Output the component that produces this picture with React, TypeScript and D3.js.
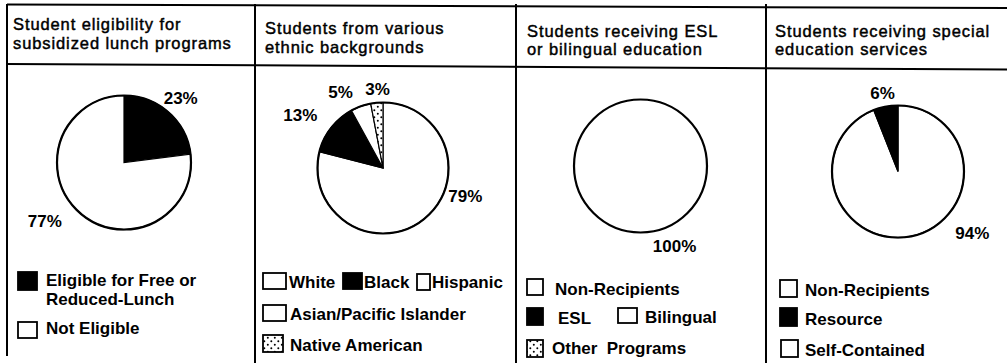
import React from "react";
import * as d3 from "d3";

// ---------- DATA ----------
const titles: string[][] = [
  ["Student eligibility for", "subsidized lunch programs"],
  ["Students from various", "ethnic backgrounds"],
  ["Students receiving ESL", "or bilingual education"],
  ["Students receiving special", "education services"],
];

const lunchCategories = ["Eligible for Free or|Reduced-Lunch", "Not Eligible"];
const lunchValues = [23, 77];

const ethnicCategories = ["White", "Black", "Hispanic", "Asian/Pacific Islander", "Native American"];
const ethnicValues = [79, 13, 0, 5, 3];

const eslCategories = ["Non-Recipients", "ESL", "Bilingual", "Other  Programs"];
const eslValues = [100, 0, 0, 0];

const spedCategories = ["Non-Recipients", "Resource", "Self-Contained"];
const spedValues = [94, 6, 0];

// ---------- STYLE / LAYOUT ----------
const W = 1007;
const H = 363;
const FONT = "'Liberation Sans', Arial, Helvetica, sans-serif";

type Fill = "black" | "white" | "dots";
const panelFills: Fill[][] = [
  ["black", "white"],
  ["white", "black", "white", "white", "dots"],
  ["white", "black", "white", "dots"],
  ["white", "black", "white"],
];

const panelLeft = [7, 255, 516, 766];
const titleBaseline = [30, 34, 36.5, 36.5];
const titleX = [13, 265, 527, 775];
const titleGap = 18.5;
const legendLineGap = 19.5;
const pieCenters = [
  [124, 162.5],
  [383, 168],
  [640.5, 166],
  [898, 171.5],
];
const pieRadius = [67, 65.5, 66.5, 66];

// label placement: angle (deg, clockwise from top; null = slice mid-angle) and radius factor
const labelPlacement: { angle: number | null; k: number }[][] = [
  [{ angle: null, k: 1.28 }, { angle: 233.5, k: 1.47 }],
  [{ angle: 109, k: 1.33 }, { angle: 302.6, k: 1.5 }, { angle: null, k: 1.3 }, { angle: 330.8, k: 1.33 }, { angle: 356, k: 1.21 }],
  [{ angle: 157, k: 1.31 }, { angle: null, k: 1.2 }, { angle: null, k: 1.2 }, { angle: null, k: 1.2 }],
  [{ angle: 129.5, k: 1.46 }, { angle: 348.8, k: 1.21 }, { angle: null, k: 1.2 }],
];

// legend: box [x, y, w, h], text x, text baseline
const legendLayout: { box: number[]; tx: number; ty: number }[][] = [
  [
    { box: [18, 272, 19, 18], tx: 46, ty: 285.5 },
    { box: [18, 322, 19, 16], tx: 46, ty: 334 },
  ],
  [
    { box: [263, 273, 23, 16], tx: 289, ty: 288 },
    { box: [343, 273, 19, 16], tx: 364, ty: 288 },
    { box: [417, 274, 13, 16], tx: 432, ty: 288 },
    { box: [263, 305, 23, 16], tx: 290, ty: 320 },
    { box: [263, 335, 20, 17], tx: 290, ty: 351 },
  ],
  [
    { box: [527, 279, 16, 16], tx: 555, ty: 295 },
    { box: [527, 308, 16, 17], tx: 558, ty: 324 },
    { box: [618, 308, 19, 15], tx: 645, ty: 323 },
    { box: [527, 340, 16, 17], tx: 552, ty: 354 },
  ],
  [
    { box: [780, 280, 17, 17], tx: 805, ty: 296 },
    { box: [780, 308, 17, 18], tx: 805, ty: 325 },
    { box: [781, 340, 17, 17], tx: 805, ty: 356 },
  ],
];

const panelCategories = [lunchCategories, ethnicCategories, eslCategories, spedCategories];
const panelValues = [lunchValues, ethnicValues, eslValues, spedValues];

function fillOf(f: Fill) {
  if (f === "black") return "#000";
  if (f === "dots") return "url(#dots)";
  return "#fff";
}

export default function App() {
  const pie = d3
    .pie<number>()
    .sort(null)
    .value((d) => d);

  return (
    <svg
      width={W}
      height={H}
      style={{ position: "absolute", left: 0, top: 0, background: "#fff" }}
      fontFamily={FONT}
    >
      <defs>
        <pattern id="dots" width="7" height="7" patternUnits="userSpaceOnUse">
          <rect width="7" height="7" fill="#fff" />
          <circle cx="1.8" cy="1.8" r="1" fill="#000" />
          <circle cx="5.3" cy="5.3" r="1" fill="#000" />
        </pattern>
      </defs>
      <rect width={W} height={H} fill="#fff" />

      {/* frame lines */}
      <line x1={panelLeft[0]} y1={4.5} x2={W} y2={8} stroke="#000" strokeWidth={2} />
      <line x1={panelLeft[0]} y1={64} x2={W} y2={69.5} stroke="#000" strokeWidth={2} />
      {panelLeft.map((x, i) => (
        <line key={i} x1={x} y1={4} x2={x} y2={i === 0 ? 356 : H} stroke="#000" strokeWidth={2} />
      ))}

      {panelValues.map((vals, pi) => {
        const [cx, cy] = pieCenters[pi];
        const r = pieRadius[pi];
        const arcs = pie(vals);
        const arc = d3.arc<d3.PieArcDatum<number>>().innerRadius(0).outerRadius(r);
        const total = d3.sum(vals);
        return (
          <g key={pi}>
            {/* title */}
            {titles[pi].map((t, li) => (
              <text
                key={li}
                x={titleX[pi]}
                y={titleBaseline[pi] + li * titleGap}
                fontSize={16.5}
                letterSpacing={0.9}
                fill="#000"
                stroke="#000"
                strokeWidth={0.45}
              >
                {t}
              </text>
            ))}

            {/* pie */}
            <g transform={`translate(${cx},${cy})`}>
              {arcs
                .filter((a) => a.value > 0)
                .map((a, i) => (
                  <path
                    key={i}
                    d={arc(a) || ""}
                    fill={fillOf(panelFills[pi][a.index])}
                    stroke="#000"
                    strokeWidth={total === a.value ? 0 : 1.2}
                  />
                ))}
              <circle r={r} fill="none" stroke="#000" strokeWidth={2.2} />
              {arcs
                .filter((a) => a.value > 0)
                .map((a) => {
                  const pl = labelPlacement[pi][a.index];
                  const ang =
                    pl.angle === null ? (a.startAngle + a.endAngle) / 2 : (pl.angle * Math.PI) / 180;
                  const d = r * pl.k;
                  const x = d * Math.sin(ang);
                  const y = -d * Math.cos(ang);
                  return (
                    <text
                      key={"l" + a.index}
                      x={x}
                      y={y}
                      dy="0.36em"
                      textAnchor="middle"
                      fontSize={17}
                      fontWeight="bold"
                      fill="#000"
                    >
                      {Math.round((a.value / total) * 100)}%
                    </text>
                  );
                })}
            </g>

            {/* legend */}
            {panelCategories[pi].map((c, ci) => {
              const lay = legendLayout[pi][ci];
              const [bx, by, bw, bh] = lay.box;
              const lines = c.split("|");
              return (
                <g key={"g" + ci}>
                  <rect
                    x={bx}
                    y={by}
                    width={bw}
                    height={bh}
                    fill={fillOf(panelFills[pi][ci])}
                    stroke="#000"
                    strokeWidth={1.8}
                  />
                  {lines.map((ln, k) => (
                    <text
                      key={k}
                      x={lay.tx}
                      y={lay.ty + k * legendLineGap}
                      fontSize={17}
                      fontWeight="bold"
                      fill="#000"
                      style={{ whiteSpace: "pre" }}
                    >
                      {ln}
                    </text>
                  ))}
                </g>
              );
            })}
          </g>
        );
      })}
    </svg>
  );
}
